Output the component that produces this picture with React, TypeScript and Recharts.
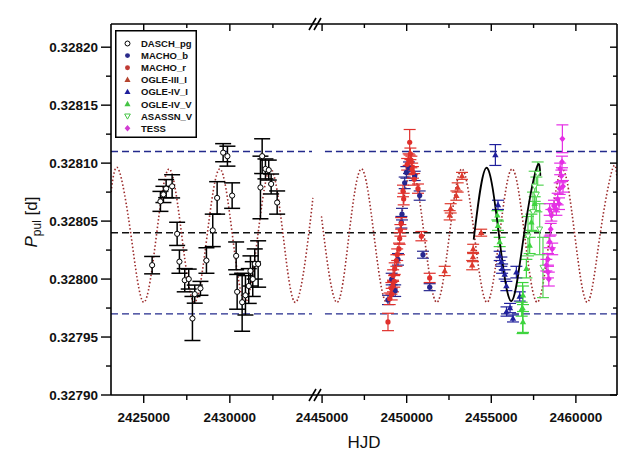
import { ComposedChart, Line, Scatter, XAxis, YAxis, ErrorBar, Legend } from 'recharts';

// ---------- data (HJD, P_pul [d], error) ----------
type Pt = { x: number; y: number; e: number };
const pts = (rows: number[][]): Pt[] => rows.map(([x, y, e]) => ({ x, y, e }));
const line = (rows: number[][]) => rows.map(([x, y]) => ({ x, y }));

const dasch = pts([
  [2425488, 0.328012, 0.0000075], [2425970, 0.328067, 0.0000086], [2426144, 0.328073, 0.000007],
  [2426301, 0.328078, 0.0000078], [2426649, 0.32808, 0.00001], [2426940, 0.328039, 0.00001],
  [2427073, 0.328015, 0.00001], [2427381, 0.327999, 0.00001], [2427613, 0.328, 0.0000086],
  [2427828, 0.327966, 0.000019], [2427962, 0.327987, 0.0000078], [2428293, 0.327992, 0.000006],
  [2428641, 0.328016, 0.000011], [2429007, 0.328042, 0.000014], [2429262, 0.32807, 0.000014],
  [2429611, 0.328109, 0.0000078], [2429860, 0.328106, 0.0000086], [2430133, 0.328072, 0.000011],
  [2430366, 0.32802, 0.000012], [2430424, 0.327989, 0.000015], [2430714, 0.32798, 0.000025],
  [2430906, 0.327986, 0.000017], [2431097, 0.327994, 0.000015], [2431196, 0.328007, 0.000013],
  [2431330, 0.328, 0.000015], [2431446, 0.328013, 0.000013], [2431643, 0.328013, 0.00002],
  [2431777, 0.328079, 0.000027], [2431876, 0.328106, 0.000015], [2432067, 0.328095, 0.0000086],
  [2432259, 0.328094, 0.0000086], [2432398, 0.328082, 0.0000086], [2432747, 0.328066, 0.00001],
]);

const machoB = pts([
  [2448895, 0.327982, 0.000004], [2449114, 0.328, 0.000005], [2449320, 0.32799, 0.000005],
  [2449486, 0.328017, 0.000005], [2449687, 0.328049, 0.000005], [2449722, 0.328056, 0.000005],
  [2449882, 0.328083, 0.000005], [2449982, 0.328092, 0.000005], [2450136, 0.328096, 0.000005],
  [2450473, 0.328089, 0.000004], [2450768, 0.328072, 0.000004], [2450963, 0.328021, 0.000003],
  [2451359, 0.327993, 0.000003],
]);

const machoR = pts([
  [2448895, 0.327963, 0.0000075], [2448995, 0.327983, 0.000005], [2449096, 0.327992, 0.000005],
  [2449114, 0.327987, 0.000005], [2449190, 0.327994, 0.000005], [2449200, 0.328003, 0.000005],
  [2449261, 0.327998, 0.000005], [2449291, 0.328009, 0.000005], [2449391, 0.328016, 0.000005],
  [2449439, 0.328021, 0.000005], [2449545, 0.328026, 0.000005], [2449586, 0.328035, 0.000005],
  [2449628, 0.328042, 0.000005], [2449675, 0.328048, 0.000005], [2449781, 0.328076, 0.000005],
  [2449823, 0.328069, 0.000005], [2450030, 0.328099, 0.000005], [2450118, 0.328103, 0.000005],
  [2450177, 0.328118, 0.000011], [2450219, 0.328108, 0.000005], [2450278, 0.328101, 0.000005],
  [2450325, 0.328095, 0.000005], [2450372, 0.328092, 0.000005], [2450443, 0.328086, 0.000005],
  [2450668, 0.328078, 0.000004], [2450869, 0.328037, 0.000004], [2451359, 0.328001, 0.000004],
]);

const ogle3I = pts([
  [2452246, 0.328007, 0.000004], [2452541, 0.328055, 0.000004], [2452600, 0.328061, 0.000004],
  [2452937, 0.328072, 0.000004], [2453014, 0.328079, 0.000004], [2453268, 0.328089, 0.000003],
  [2453871, 0.328012, 0.000004], [2453918, 0.328019, 0.000004], [2453930, 0.328026, 0.000004],
  [2454403, 0.32804, 0.000003],
]);

const ogle4I = pts([
  [2455242, 0.328107, 0.000009], [2455396, 0.328064, 0.000004], [2455496, 0.32802, 0.000004],
  [2455597, 0.328015, 0.000004], [2455640, 0.328009, 0.000004], [2455792, 0.328004, 0.000004],
  [2455892, 0.327994, 0.000004], [2455900, 0.327972, 0.000004], [2456110, 0.327975, 0.000004],
  [2456282, 0.327966, 0.000003], [2456483, 0.328006, 0.000005], [2456680, 0.327985, 0.000004],
]);

const ogle4V = pts([
  [2455360, 0.328055, 0.000004], [2455396, 0.328046, 0.000004], [2455496, 0.328032, 0.000004],
  [2456796, 0.327974, 0.000006], [2456850, 0.327975, 0.000022], [2456873, 0.327963, 0.000009],
  [2456873, 0.327986, 0.000008], [2457074, 0.328009, 0.000008], [2457269, 0.328029, 0.000007],
  [2457370, 0.328049, 0.000007], [2457565, 0.328065, 0.000006],
]);

const asassnV = pts([
  [2457169, 0.328037, 0.000017], [2457464, 0.328058, 0.000017], [2457565, 0.32808, 0.000013],
  [2457665, 0.328073, 0.000015], [2457742, 0.328091, 0.00001], [2457860, 0.328043, 0.000022],
  [2458055, 0.32801, 0.000026],
]);

const tess = pts([
  [2458256, 0.328012, 0.000005], [2458351, 0.328006, 0.000005], [2458351, 0.328017, 0.000005],
  [2458400, 0.328, 0.000006], [2458452, 0.328032, 0.000005], [2458452, 0.32806, 0.000005],
  [2458511, 0.328043, 0.000005], [2458552, 0.328055, 0.000005], [2458600, 0.328026, 0.000005],
  [2458706, 0.328063, 0.000005], [2458848, 0.32806, 0.000005], [2458924, 0.328069, 0.000005],
  [2459002, 0.328065, 0.000005], [2459043, 0.328078, 0.000005], [2459072, 0.328095, 0.000005],
  [2459143, 0.328089, 0.000005], [2459179, 0.328101, 0.000005], [2459202, 0.328121, 0.000012],
  [2459238, 0.32808, 0.000005],
]);

// model curve (dotted), read at its turning points and mid crossings
const modelLeft = line([
  [2423100, 0.328075], [2423528, 0.328095], [2424264, 0.3280375], [2425000, 0.32798],
  [2425736, 0.3280375], [2426472, 0.328095], [2427208, 0.3280375], [2427944, 0.32798],
  [2428680, 0.3280375], [2429416, 0.328095], [2430152, 0.3280375], [2430888, 0.32798],
  [2431624, 0.3280375], [2432360, 0.328095], [2433096, 0.3280375], [2433832, 0.32798],
  [2434568, 0.3280375], [2434820, 0.32807],
]);
const modelRight = line([
  [2444980, 0.328053], [2445103, 0.3280375], [2445845, 0.32798], [2446587, 0.3280375],
  [2447329, 0.328095], [2448071, 0.3280375], [2448812, 0.32798], [2449554, 0.3280375],
  [2450296, 0.328095], [2451038, 0.3280375], [2451779, 0.32798], [2452521, 0.3280375],
  [2453263, 0.328095], [2454005, 0.3280375], [2454746, 0.32798], [2455488, 0.3280375],
  [2456230, 0.328095], [2456972, 0.3280375], [2457713, 0.32798], [2458455, 0.3280375],
  [2459197, 0.328095], [2459939, 0.3280375], [2460680, 0.32798], [2461422, 0.3280375],
  [2462164, 0.328095], [2462430, 0.328087],
]);
// local fit (solid black)
const localFit = line([
  [2453960, 0.328034], [2454710, 0.328096], [2455450, 0.3280385], [2456190, 0.327981],
  [2456935, 0.3280385], [2457680, 0.328096], [2457900, 0.328089],
]);

// horizontal levels
const levelHigh = 0.32811;
const levelMid = 0.32804;
const levelLow = 0.32797;
const leftSpan = [2423100, 2434770];
const rightSpan = [2445170, 2462430];

// axes
const yMajor = [0.3279, 0.32795, 0.328, 0.32805, 0.3281, 0.32815, 0.3282];
const yMinor = [0.327925, 0.327975, 0.328025, 0.328075, 0.328125, 0.328175];
const xLeftMajor = [2425000, 2430000];
const xLeftMinor = [2427500, 2432500];
const xRightMajor = [2445000, 2450000, 2455000, 2460000];
const xRightMinor = [2447500, 2452500, 2457500];
const yDomain = [0.3279, 0.32822];
const xLeftDomain = [2423100, 2435060];
const xRightDomain = [2444700, 2462430];

// ---------- styling ----------
const FONT = '"Liberation Sans", Arial, Helvetica, sans-serif';
const AXIS = { stroke: '#000', strokeWidth: 1.6 };
const NAVY = '#232a8c';
const DOT_RED = '#9c2b2b';

const isMajor = (v: number, majors: number[]) =>
  majors.some((m) => Math.abs(m - v) < 1e-9 * Math.max(1, Math.abs(m)));

const bottomTick = (majors: number[]) => (p: any) => {
  const v = p.payload.value;
  const major = isMajor(v, majors);
  return (
    <g>
      <line x1={p.x} y1={p.y} x2={p.x} y2={p.y + (major ? 8 : 5)} stroke="#000" strokeWidth={1.4} />
      {major && (
        <text x={p.x} y={p.y + 27} textAnchor="middle" fontFamily={FONT} fontSize={13.5} fontWeight="bold" fill="#111">
          {v}
        </text>
      )}
    </g>
  );
};

const topTick = (majors: number[]) => (p: any) => {
  const major = isMajor(p.payload.value, majors);
  return <line x1={p.x} y1={p.y} x2={p.x} y2={p.y + (major ? 7 : 4)} stroke="#000" strokeWidth={1.4} />;
};

const leftTick = (p: any) => {
  const v = p.payload.value;
  const major = isMajor(v, yMajor);
  return (
    <g>
      <line x1={p.x - (major ? 10 : 5)} y1={p.y} x2={p.x} y2={p.y} stroke="#000" strokeWidth={1.4} />
      {major && (
        <text x={p.x - 13} y={p.y + 5} textAnchor="end" fontFamily={FONT} fontSize={13.5} fontWeight="bold" fill="#111">
          {v.toFixed(5)}
        </text>
      )}
    </g>
  );
};

const rightTick = (p: any) => {
  const major = isMajor(p.payload.value, yMajor);
  return <line x1={p.x - (major ? 7 : 4)} y1={p.y} x2={p.x} y2={p.y} stroke="#000" strokeWidth={1.4} />;
};

// marker shapes, placed at the library's cx/cy
const marker = (kind: string, color: string, cx: number, cy: number, s = 1) => {
  switch (kind) {
    case 'openCircle':
      return <circle cx={cx} cy={cy} r={2.6 * s} fill="#fff" stroke={color} strokeWidth={1} />;
    case 'circle':
      return <circle cx={cx} cy={cy} r={2.6 * s} fill={color} />;
    case 'triangle':
      return (
        <path d={`M${cx},${cy - 3.4 * s}L${cx + 3.2 * s},${cy + 2.3 * s}L${cx - 3.2 * s},${cy + 2.3 * s}Z`} fill={color} />
      );
    case 'openNabla':
      return (
        <path
          d={`M${cx},${cy + 3.2 * s}L${cx + 3 * s},${cy - 2.2 * s}L${cx - 3 * s},${cy - 2.2 * s}Z`}
          fill="#fff"
          stroke={color}
          strokeWidth={1}
        />
      );
    default:
      return (
        <path d={`M${cx},${cy - 3.4 * s}L${cx + 3 * s},${cy}L${cx},${cy + 3.4 * s}L${cx - 3 * s},${cy}Z`} fill={color} />
      );
  }
};

const rightSeries = [
  { name: 'MACHO_b', data: machoB, color: '#27278f', kind: 'circle' },
  { name: 'MACHO_r', data: machoR, color: '#e0302c', kind: 'circle' },
  { name: 'OGLE-III_I', data: ogle3I, color: '#dd3a2e', kind: 'triangle' },
  { name: 'OGLE-IV_I', data: ogle4I, color: '#1f1f9c', kind: 'triangle' },
  { name: 'OGLE-IV_V', data: ogle4V, color: '#3fd43f', kind: 'triangle' },
  { name: 'ASASSN_V', data: asassnV, color: '#55d455', kind: 'openNabla' },
  { name: 'TESS', data: tess, color: '#e52ee5', kind: 'diamond' },
];

const legendItems = [
  { name: 'DASCH_pg', color: '#000', kind: 'openCircle' },
  { name: 'MACHO_b', color: '#2a2a8a', kind: 'circle' },
  { name: 'MACHO_r', color: '#c03a34', kind: 'circle' },
  { name: 'OGLE-III_I', color: '#b5442e', kind: 'triangle' },
  { name: 'OGLE-IV_I', color: '#1f1f9c', kind: 'triangle' },
  { name: 'OGLE-IV_V', color: '#44c444', kind: 'triangle' },
  { name: 'ASASSN_V', color: '#44c444', kind: 'openNabla' },
  { name: 'TESS', color: '#d23cd2', kind: 'diamond' },
];

const LegendBox = () => (
  <svg width={82} height={108} style={{ display: 'block' }}>
    <rect x={0.75} y={0.75} width={80.5} height={106.5} fill="#fff" stroke="#000" strokeWidth={1.5} />
    {legendItems.map((it, i) => (
      <g key={it.name}>
        {marker(it.kind, it.color, 12.5, 13.5 + i * 12.1, 0.95)}
        <text x={26} y={17 + i * 12.1} fontFamily={FONT} fontSize={9.5} fontWeight="bold" fill="#111">
          {it.name}
        </text>
      </g>
    ))}
  </svg>
);

const levelLine = (span: number[], y: number, color: string, key: string) => (
  <Line
    key={key}
    data={line([[span[0], y], [span[1], y]])}
    dataKey="y"
    type="linear"
    stroke={color}
    strokeWidth={1.4}
    strokeDasharray="7 4"
    dot={false}
    activeDot={false}
    isAnimationActive={false}
  />
);

const modelLine = (data: { x: number; y: number }[]) => (
  <Line
    data={data}
    dataKey="y"
    type="natural"
    stroke={DOT_RED}
    strokeWidth={1.6}
    strokeDasharray="1.5 2.2"
    dot={false}
    activeDot={false}
    isAnimationActive={false}
  />
);

const MARGIN_L = { top: 23, right: 0, bottom: 31, left: 0 };
// the right panel starts further left so its first tick label is not clipped
const MARGIN_R = { top: 23, right: 0, bottom: 31, left: 47 };

export default function App() {
  return (
    <div style={{ position: 'absolute', left: 0, top: 0, width: 631, height: 456, background: '#fff', fontFamily: FONT }}>
      {/* left part of the broken axis */}
      <div style={{ position: 'absolute', left: 0, top: 0 }}>
        <ComposedChart width={317} height={456} margin={MARGIN_L}>
          <XAxis dataKey="x" type="number" domain={xLeftDomain} allowDataOverflow ticks={[...xLeftMajor, ...xLeftMinor]}
            interval={0} tickSize={0} tickMargin={0} tickLine={false} axisLine={AXIS} tick={bottomTick(xLeftMajor)} height={30} />
          <XAxis xAxisId="t" orientation="top" dataKey="x" type="number" domain={xLeftDomain} allowDataOverflow
            ticks={[...xLeftMajor, ...xLeftMinor]} interval={0} tickSize={0} tickMargin={0} tickLine={false} axisLine={AXIS}
            tick={topTick(xLeftMajor)} height={1} />
          <YAxis dataKey="y" type="number" domain={yDomain} allowDataOverflow ticks={[...yMajor, ...yMinor]} interval={0}
            tickSize={0} tickMargin={0} tickLine={false} axisLine={AXIS} tick={leftTick} width={111} />
          {levelLine(leftSpan, levelHigh, NAVY, 'lh')}
          {levelLine(leftSpan, levelMid, '#111', 'lm')}
          {levelLine(leftSpan, levelLow, NAVY, 'll')}
          {modelLine(modelLeft)}
          <Scatter data={dasch} isAnimationActive={false} shape={(p: any) => marker('openCircle', '#000', p.cx, p.cy)}>
            <ErrorBar dataKey="e" direction="y" width={8} stroke="#000" strokeWidth={1.5} />
          </Scatter>
          <Legend layout="vertical" align="center" verticalAlign="middle" content={() => <LegendBox />}
            wrapperStyle={{ left: 115, top: 30, width: 82, height: 108 }} />
        </ComposedChart>
      </div>

      {/* right part of the broken axis */}
      <div style={{ position: 'absolute', left: 270, top: 0 }}>
        <ComposedChart width={361} height={456} margin={MARGIN_R}>
          <XAxis dataKey="x" type="number" domain={xRightDomain} allowDataOverflow ticks={[...xRightMajor, ...xRightMinor]}
            interval={0} tickSize={0} tickMargin={0} tickLine={false} axisLine={AXIS} tick={bottomTick(xRightMajor)} height={30} />
          <XAxis xAxisId="t" orientation="top" dataKey="x" type="number" domain={xRightDomain} allowDataOverflow
            ticks={[...xRightMajor, ...xRightMinor]} interval={0} tickSize={0} tickMargin={0} tickLine={false} axisLine={AXIS}
            tick={topTick(xRightMajor)} height={1} />
          <YAxis orientation="right" dataKey="y" type="number" domain={yDomain} allowDataOverflow ticks={[...yMajor, ...yMinor]}
            interval={0} tickSize={0} tickMargin={0} tickLine={false} axisLine={AXIS} tick={rightTick} width={14} />
          {levelLine(rightSpan, levelHigh, NAVY, 'rh')}
          {levelLine(rightSpan, levelMid, '#111', 'rm')}
          {levelLine(rightSpan, levelLow, NAVY, 'rl')}
          {modelLine(modelRight)}
          {rightSeries.map((s) => (
            <Scatter key={s.name} name={s.name} data={s.data} isAnimationActive={false}
              shape={(p: any) => marker(s.kind, s.color, p.cx, p.cy)}>
              <ErrorBar dataKey="e" direction="y" width={6} stroke={s.color} strokeWidth={1.2} />
            </Scatter>
          ))}
          <Line data={localFit} dataKey="y" type="natural" stroke="#000" strokeWidth={1.8} dot={false} activeDot={false}
            isAnimationActive={false} />
        </ComposedChart>
      </div>

      {/* axis titles and break marks */}
      <svg width={631} height={456} style={{ position: 'absolute', left: 0, top: 0, pointerEvents: 'none' }}>
        <text transform="rotate(-90 37 222)" x={37} y={222} textAnchor="middle" fontFamily={FONT} fill="#111">
          <tspan fontSize={17} fontStyle="italic">P</tspan>
          <tspan fontSize={12} dy={4}>pul</tspan>
          <tspan fontSize={17} dy={-4}> [d]</tspan>
        </text>
        <text x={364} y={448} textAnchor="middle" fontFamily={FONT} fontSize={17} fill="#111">HJD</text>
        {[24, 395].map((y) => (
          <g key={y} stroke="#000" strokeWidth={1.6}>
            <line x1={309} y1={y + 6} x2={316} y2={y - 6} />
            <line x1={314} y1={y + 6} x2={321} y2={y - 6} />
          </g>
        ))}
      </svg>
    </div>
  );
}
